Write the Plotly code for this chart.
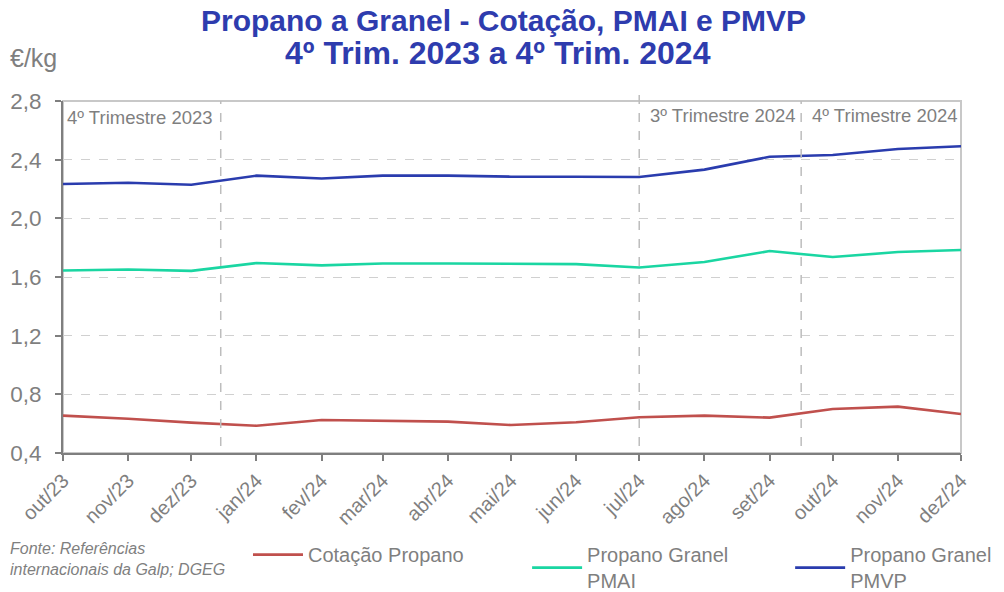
import plotly.graph_objects as go

months = ["2023-10-01","2023-11-01","2023-12-01","2024-01-01","2024-02-01","2024-03-01",
          "2024-04-01","2024-05-01","2024-06-01","2024-07-01","2024-08-01","2024-09-01",
          "2024-10-01","2024-11-01","2024-12-01"]
tick_labels = ["out/23","nov/23","dez/23","jan/24","fev/24","mar/24","abr/24","mai/24",
               "jun/24","jul/24","ago/24","set/24","out/24","nov/24","dez/24"]
cotacao = [0.655,0.634,0.607,0.586,0.625,0.620,0.614,0.591,0.610,0.644,0.655,0.641,0.700,0.716,0.666]
pmai = [1.644,1.651,1.642,1.695,1.679,1.692,1.692,1.688,1.688,1.665,1.702,1.777,1.736,1.770,1.784]
pmvp = [2.234,2.243,2.229,2.291,2.272,2.291,2.291,2.284,2.284,2.282,2.332,2.420,2.432,2.473,2.491]
y_ticks = [0.4,0.8,1.2,1.6,2.0,2.4,2.8]
y_tick_labels = ["0,4","0,8","1,2","1,6","2,0","2,4","2,8"]

series_names = ["Cotação Propano","Propano Granel<br>PMAI","Propano Granel<br>PMVP"]
series_colors = ["#c0504d","#1ad6a2","#2a3cae"]
legend_ids = ["legend","legend2","legend3"]

gray = "#7f7f7f"
fig = go.Figure()
for name, vals, col, lg in zip(series_names, [cotacao, pmai, pmvp], series_colors, legend_ids):
    fig.add_trace(go.Scatter(x=months, y=vals, mode="lines", name=name, legend=lg,
                             line=dict(color=col, width=2.6)))

def legend_at(x):
    return dict(xref="container", yref="container", x=x, y=0.096, xanchor="left", yanchor="top",
                font=dict(size=20, color=gray), bgcolor="rgba(0,0,0,0)", itemwidth=50)

fig.update_layout(
    width=1004, height=592,
    margin=dict(l=63, r=43, t=101, b=139, autoexpand=False),
    plot_bgcolor="white", paper_bgcolor="white",
    font=dict(family="Liberation Sans, Arial, sans-serif", color=gray),
    showlegend=True,
    legend=legend_at(0.247),
    legend2=legend_at(0.525),
    legend3=legend_at(0.787),
    xaxis=dict(type="date", range=["2023-10-01","2024-12-01"], automargin=False,
               tickvals=months, ticktext=tick_labels, tickangle=-45,
               tickfont=dict(size=20, color=gray),
               showgrid=False, showline=True, linecolor="#7f7f7f", linewidth=2,
               ticks="outside", ticklen=6, tickcolor="#7f7f7f", tickwidth=1.5),
    yaxis=dict(range=[0.4, 2.8], tickvals=y_ticks, ticktext=y_tick_labels, automargin=False,
               tickfont=dict(size=22.5, color=gray), ticklabelstandoff=9,
               showgrid=True, gridcolor="#d0d0d0", griddash="dash", gridwidth=1.2,
               showline=True, linecolor="#7f7f7f", linewidth=2,
               ticks="outside", ticklen=6, tickcolor="#7f7f7f", tickwidth=1.5,
               zeroline=False),
)

# light frame (top/right)
fig.add_shape(type="rect", xref="paper", yref="paper", x0=0, x1=1, y0=0, y1=1,
              line=dict(color="#c8c8c8", width=2), layer="below")

# quarter separators
for xv, y1 in [("2023-12-15", 1.0), ("2024-07-01", 1.02), ("2024-09-16", 1.0)]:
    fig.add_shape(type="line", xref="x", yref="paper", x0=xv, x1=xv, y0=0.02, y1=y1,
                  line=dict(color="#bdbdbd", width=1.5, dash="dash"))

for txt, xv, yv in [("4º Trimestre 2023", "2023-10-02", 0.952),
                    ("3º Trimestre 2024", "2024-07-05", 0.960),
                    ("4º Trimestre 2024", "2024-09-20", 0.960)]:
    fig.add_annotation(text=txt, x=xv, y=yv, xref="x", yref="paper",
                       xanchor="left", yanchor="middle", showarrow=False,
                       font=dict(size=18.5, color=gray))

# title (two lines)
for txt, yv, fs, xv in [("<b>Propano a Granel - Cotação, PMAI e PMVP</b>", 1.230, 30, 0.490),
                        ("<b>4º Trim. 2023 a 4º Trim. 2024</b>", 1.136, 32, 0.484)]:
    fig.add_annotation(text=txt, xref="paper", yref="paper", x=xv, y=yv,
                       xanchor="center", yanchor="middle", showarrow=False,
                       font=dict(size=fs, color="#2e3cae"))

fig.add_annotation(text="€/kg", xref="paper", yref="paper", x=-0.061, y=1.122,
                   xanchor="left", yanchor="middle", showarrow=False,
                   font=dict(size=25, color=gray))

fig.add_annotation(text="<i>Fonte: Referências<br>internacionais da Galp; DGEG</i>",
                   xref="paper", yref="paper", x=-0.061, y=-0.301, xanchor="left", yanchor="middle",
                   align="left", showarrow=False, font=dict(size=16, color=gray))

fig.write_html("out.html", config={"displayModeBar": False},
               post_script="document.body.style.margin='0px';")
